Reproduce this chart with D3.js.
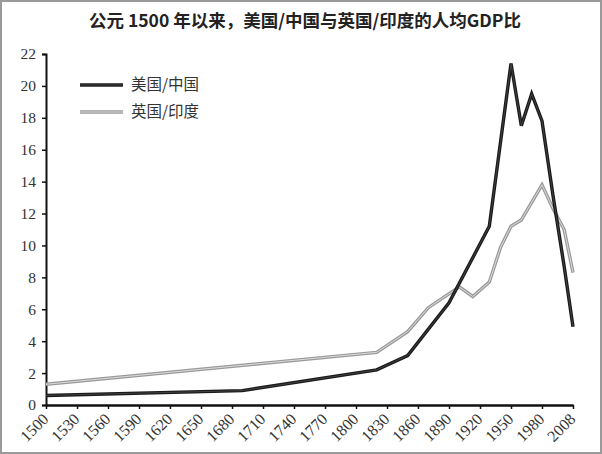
<!DOCTYPE html>
<html><head><meta charset="utf-8">
<script src="https://cdn.jsdelivr.net/npm/d3@7"></script>
<style>body{margin:0;background:#fff}svg{display:block}</style>
</head><body>
<svg id="c" width="602" height="454"></svg>
<script>
const title = "公元 1500 年以来，美国/中国与英国/印度的人均GDP比";
const xTicks = [1500,1530,1560,1590,1620,1650,1680,1710,1740,1770,1800,1830,1860,1890,1920,1950,1980,2008];
const yTicks = [0,2,4,6,8,10,12,14,16,18,20,22];
const seriesNames = ["美国/中国","英国/印度"];
const usChinaYears = [1500,1690,1820,1850,1890,1929,1950,1960,1970,1980,1990,2000,2008];
const usChinaVals  = [0.6, 0.9, 2.2, 3.1, 6.4, 11.2,21.4,17.5,19.5,17.8,13.1,8.7, 4.9];
const ukIndiaYears = [1500,1820,1850,1870,1900,1913,1929,1940,1950,1960,1980,1990,2000,2008];
const ukIndiaVals  = [1.3, 3.3, 4.6, 6.1, 7.4, 6.8, 7.7, 9.9, 11.2,11.6,13.8,12.3,11.0,8.3];

const svg = d3.select("#c");
svg.append("rect").attr("x",1).attr("y",1).attr("width",600).attr("height",452)
  .attr("fill","#fff").attr("stroke","#9a9a9a").attr("stroke-width",2);

const x = d3.scaleLinear().domain([1500,1980,2008]).range([46,542,573]);
const y = d3.scaleLinear().domain([0,22]).range([405,54]);

svg.append("text").attr("x",305).attr("y",27).attr("text-anchor","middle")
  .attr("font-family","Noto Sans CJK SC").attr("font-weight","bold").attr("font-size",17.5)
  .attr("fill","#222").text(title);

const serif = "Liberation Serif";
// y axis
const ya = svg.append("g").attr("transform","translate(46,0)")
  .call(d3.axisLeft(y).tickValues(yTicks).tickSize(4).tickPadding(6));
ya.select(".domain").attr("stroke","#111").attr("stroke-width",2);
ya.selectAll(".tick line").attr("stroke","#111").attr("stroke-width",1.5);
ya.selectAll("text").attr("font-family",serif).attr("font-size",15.5).attr("fill","#333");

// x axis
const xa = svg.append("g").attr("transform","translate(0,405)")
  .call(d3.axisBottom(x).tickValues(xTicks).tickFormat(d3.format("d")).tickSize(4).tickSizeOuter(0));
xa.select(".domain").attr("stroke","#111").attr("stroke-width",2.5);
xa.selectAll(".tick line").attr("stroke","#111").attr("stroke-width",1.5);
xa.selectAll("text").attr("font-family",serif).attr("font-size",16).attr("fill","#333")
  .attr("text-anchor","end").attr("dy",null).attr("y",0)
  .attr("transform","translate(3,15) rotate(-45)");

const line = d3.line().x(d=>x(d[0])).y(d=>y(d[1]));
const us = usChinaYears.map((t,i)=>[t,usChinaVals[i]]);
const uk = ukIndiaYears.map((t,i)=>[t,ukIndiaVals[i]]);

function draw(data, outer, outerW, inner, innerW){
  svg.append("path").datum(data).attr("d",line).attr("fill","none")
    .attr("stroke",outer).attr("stroke-width",outerW).attr("stroke-linejoin","miter");
  svg.append("path").datum(data).attr("d",line).attr("fill","none")
    .attr("stroke",inner).attr("stroke-width",innerW).attr("stroke-linejoin","miter");
}
draw(uk,"#9a9a9a",3.4,"#e2e2e2",0.9);
draw(us,"#1a1a1a",3.4,"#4a4a4a",0.8);

// legend
const lg = svg.append("g");
const items = [{n:seriesNames[0],o:"#1a1a1a",ow:3.4,i:"#4a4a4a",iw:0.8,y:85},
               {n:seriesNames[1],o:"#9a9a9a",ow:3.4,i:"#e2e2e2",iw:0.9,y:112}];
items.forEach(it=>{
  lg.append("line").attr("x1",80).attr("x2",123).attr("y1",it.y).attr("y2",it.y).attr("stroke",it.o).attr("stroke-width",it.ow);
  lg.append("line").attr("x1",80).attr("x2",123).attr("y1",it.y).attr("y2",it.y).attr("stroke",it.i).attr("stroke-width",it.iw);
  lg.append("text").attr("x",131).attr("y",it.y).attr("dy","0.35em")
    .attr("font-family","Noto Sans CJK SC").attr("font-size",15.5).attr("fill","#333").text(it.n);
});
</script>
</body></html>
